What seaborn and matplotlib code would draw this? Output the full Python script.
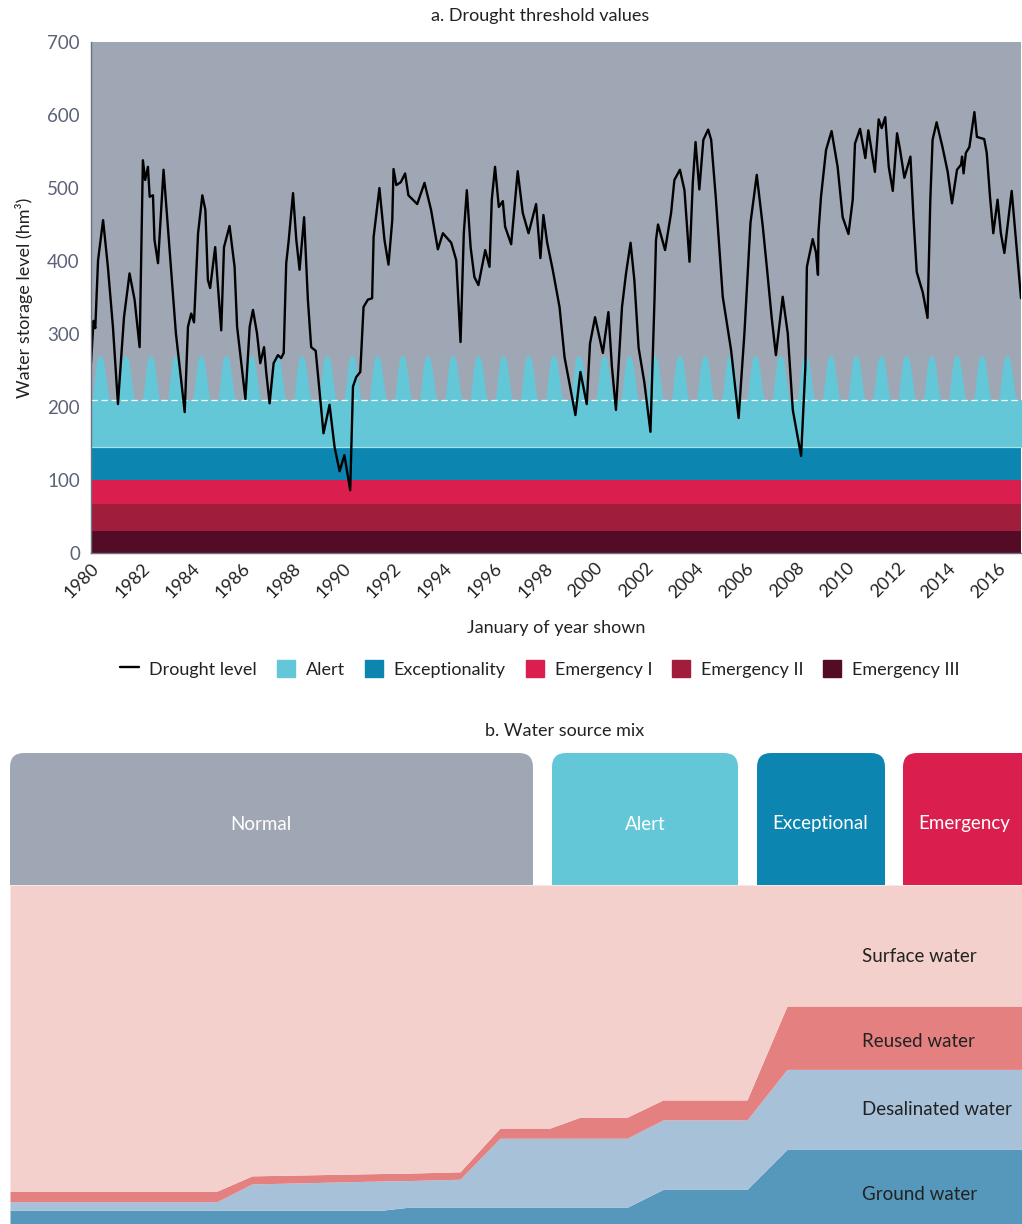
import numpy as np
import pandas as pd
import matplotlib
matplotlib.use("Agg")
import matplotlib.pyplot as plt
from matplotlib.patches import FancyBboxPatch, Patch
from matplotlib.lines import Line2D
import seaborn as sns

# ---------------- data: reservoir storage (hm3) ----------------
years = [
    1980.00, 1980.10, 1980.17, 1980.28, 1980.48, 1980.67, 1980.87, 1981.07, 1981.31, 1981.53,
    1981.73, 1981.93, 1982.06, 1982.15, 1982.26, 1982.33, 1982.46, 1982.52, 1982.66, 1982.88,
    1983.12, 1983.37, 1983.72, 1983.85, 1983.98, 1984.09, 1984.25, 1984.42, 1984.54, 1984.64,
    1984.73, 1984.93, 1985.04, 1985.17, 1985.28, 1985.50, 1985.70, 1985.80, 1986.13, 1986.30,
    1986.43, 1986.59, 1986.72, 1986.87, 1986.96, 1987.09, 1987.25, 1987.42, 1987.55, 1987.65,
    1987.75, 1987.84, 1988.02, 1988.15, 1988.28, 1988.46, 1988.61, 1988.74, 1988.92, 1989.08,
    1989.23, 1989.47, 1989.67, 1989.87, 1990.06, 1990.29, 1990.40, 1990.53, 1990.69, 1990.82,
    1990.99, 1991.16, 1991.22, 1991.45, 1991.65, 1991.81, 1991.96, 1992.01, 1992.12, 1992.30,
    1992.47, 1992.60, 1992.95, 1993.24, 1993.50, 1993.66, 1993.77, 1993.97, 1994.30, 1994.50,
    1994.67, 1994.80, 1994.92, 1995.07, 1995.22, 1995.38, 1995.65, 1995.82, 1995.91, 1996.04,
    1996.19, 1996.35, 1996.44, 1996.68, 1996.94, 1997.14, 1997.37, 1997.67, 1997.84, 1997.96,
    1998.11, 1998.33, 1998.60, 1998.80, 1999.23, 1999.43, 1999.68, 1999.81, 2000.01, 2000.32,
    2000.54, 2000.68, 2000.84, 2001.08, 2001.24, 2001.42, 2001.57, 2001.74, 2001.97, 2002.21,
    2002.37, 2002.43, 2002.51, 2002.79, 2003.03, 2003.16, 2003.38, 2003.56, 2003.76, 2003.89,
    2004.00, 2004.15, 2004.31, 2004.50, 2004.62, 2004.81, 2005.08, 2005.41, 2005.71, 2005.94,
    2006.18, 2006.43, 2006.67, 2006.84, 2007.02, 2007.19, 2007.46, 2007.66, 2007.86, 2008.19,
    2008.36, 2008.42, 2008.65, 2008.78, 2008.86, 2008.88, 2008.98, 2009.18, 2009.40, 2009.64,
    2009.84, 2010.07, 2010.24, 2010.33, 2010.53, 2010.74, 2010.86, 2011.12, 2011.27, 2011.39,
    2011.53, 2011.67, 2011.83, 2012.00, 2012.12, 2012.29, 2012.53, 2012.65, 2012.78, 2013.02,
    2013.21, 2013.32, 2013.41, 2013.57, 2013.81, 2014.01, 2014.18, 2014.38, 2014.54, 2014.58,
    2014.64, 2014.73, 2014.87, 2015.07, 2015.17, 2015.46, 2015.56, 2015.69, 2015.82, 2015.99,
    2016.12, 2016.26, 2016.55, 2016.72, 2016.92,
]
storage = [
    260, 318, 308, 401, 456, 392, 310, 204, 323, 383,
    347, 282, 538, 511, 529, 488, 490, 429, 397, 525,
    415, 301, 193, 310, 328, 316, 438, 490, 470, 374,
    363, 419, 365, 305, 419, 448, 392, 310, 211, 310,
    333, 301, 260, 282, 246, 205, 260, 271, 267, 274,
    397, 425, 493, 429, 388, 460, 347, 282, 277, 219,
    164, 203, 145, 112, 134, 86, 228, 241, 248, 337,
    347, 349, 433, 500, 429, 395, 456, 526, 504, 508,
    520, 490, 478, 507, 470, 438, 416, 438, 425, 401,
    289, 438, 497, 419, 378, 367, 415, 392, 484, 529,
    474, 482, 447, 423, 523, 466, 438, 478, 404, 463,
    425, 388, 337, 268, 189, 248, 204, 287, 323, 274,
    330, 255, 196, 337, 383, 425, 374, 281, 233, 166,
    347, 429, 450, 415, 466, 511, 525, 497, 399, 507,
    563, 498, 566, 580, 566, 484, 351, 278, 185, 301,
    452, 518, 447, 388, 323, 271, 351, 301, 196, 133,
    255, 392, 430, 412, 381, 440, 488, 552, 578, 529,
    460, 437, 484, 561, 581, 541, 579, 522, 594, 582,
    597, 529, 496, 575, 552, 514, 543, 460, 385, 357,
    322, 484, 566, 590, 555, 522, 479, 525, 532, 543,
    520, 548, 556, 604, 570, 567, 548, 488, 438, 484,
    438, 411, 496, 429, 349,
]

# seasonal alert threshold (hm3), 24 half-month steps per year
alert_profile = [210, 210, 214, 226, 240, 252, 262, 267, 269.5, 270, 269.5, 267,
                 262, 253, 242, 231, 220, 212, 210, 210, 210, 210, 210, 210]
alert_base = 210
# fixed thresholds (hm3)
exceptionality_top = 145
emergency1_top = 100
emergency2_top = 67
emergency3_top = 30

tick_years = list(range(1980, 2017, 2))
yticks = [0, 100, 200, 300, 400, 500, 600, 700]

# ---------------- data: water source mix (% of supply) ----------------
stage_pos = [0, 207, 242, 373, 397, 450, 490, 540, 570, 617, 653, 737, 777, 1012]
ground = [4.1, 4.1, 4.1, 4.1, 4.9, 4.9, 4.9, 4.9, 4.9, 4.9, 10.2, 10.2, 22.0, 22.0]
desalinated = [2.5, 2.5, 7.7, 8.6, 7.9, 8.3, 20.4, 20.4, 20.4, 20.4, 20.5, 20.5, 23.6, 23.6]
reused = [3.1, 3.1, 2.4, 2.2, 2.2, 2.2, 3.0, 3.0, 6.2, 6.2, 5.9, 5.9, 18.7, 18.7]
source_names = ["Ground water", "Desalinated water", "Reused water", "Surface water"]

stage_names = ["Normal", "Alert", "Exceptional", "Emergency"]
stage_spans = [(0, 523), (542, 728), (747, 875), (893, 1040)]
stage_label_x = [251, 635, 810, 954]

# ---------------- colours ----------------
c_normal = "#A0A7B4"
c_alert = "#63C7D8"
c_exc = "#0C86B0"
c_em1 = "#DA1F4E"
c_em2 = "#A01D3C"
c_em3 = "#530B26"
c_ground = "#5598BC"
c_desal = "#A7C1D9"
c_reused = "#E48180"
c_surface = "#F3D0CB"
c_tick = "#5C6378"
c_text = "#222222"

sns.set_theme(style="white")
plt.rcParams["font.family"] = ["Lato", "DejaVu Sans"]

W, H = 1022, 1224
fig = plt.figure(figsize=(W / 100, H / 100), dpi=100)


def frac_box(x0, y0, x1, y1):
    return [x0 / W, 1 - y1 / H, (x1 - x0) / W, (y1 - y0) / H]


# ================= panel a =================
ax = fig.add_axes(frac_box(91, 42, 1021, 553))
ax.set_facecolor(c_normal)
ax.set_xlim(1980, 2016.92)
ax.set_ylim(0, 700)

ax.axhspan(0, emergency3_top, color=c_em3, lw=0, zorder=1)
ax.axhspan(emergency3_top, emergency2_top, color=c_em2, lw=0, zorder=1)
ax.axhspan(emergency2_top, emergency1_top, color=c_em1, lw=0, zorder=1)
ax.axhspan(emergency1_top, exceptionality_top, color=c_exc, lw=0, zorder=1)

ax_years = np.array([y + i / 24 for y in range(1980, 2018) for i in range(24)])
alert_vals = np.tile(np.array(alert_profile, dtype=float), 2018 - 1980)
ax.fill_between(ax_years, exceptionality_top, alert_vals, color=c_alert, lw=0, zorder=1.5)
ax.axhline(alert_base, color="white", lw=0.9, ls=(0, (5, 3)), zorder=1.6)
ax.fill_between(ax_years, alert_base + 0.8, alert_vals, where=alert_vals > alert_base + 0.8,
                interpolate=True, color=c_alert, lw=0, zorder=1.7)
ax.axhline(exceptionality_top, color="#A6E2EC", lw=0.9, zorder=1.8)

df = pd.DataFrame({"year": years, "level": storage})
sns.lineplot(data=df, x="year", y="level", color="black", lw=1.7, ax=ax, zorder=3)
for ln in ax.get_lines():
    ln.set_solid_joinstyle("round")

ax.set_xticks(tick_years)
ax.set_xticklabels([str(t) for t in tick_years], rotation=45, ha="right",
                   rotation_mode="anchor", fontsize=13, color=c_text)
ax.set_yticks(yticks)
ax.set_yticklabels([str(t) for t in yticks], fontsize=13.5, color=c_tick)
ax.tick_params(axis="both", direction="in", length=5, width=1, color="#6B7280", pad=5)
ax.tick_params(axis="y", pad=8)
for s in ["top", "right"]:
    ax.spines[s].set_visible(False)
for s in ["left", "bottom"]:
    ax.spines[s].set_color("#6B7280")
    ax.spines[s].set_linewidth(1)
    ax.spines[s].set_zorder(4)
ax.set_xlabel("January of year shown", fontsize=13, color=c_text, labelpad=14)
ax.set_ylabel("Water storage level (hm\u00b3)", fontsize=13, color=c_text, labelpad=10)
fig.text(540 / W, 1 - 16 / H, "a. Drought threshold values", ha="center", va="center",
         fontsize=13, color=c_text)

handles = [
    Line2D([0], [0], color="black", lw=1.7),
    Patch(color=c_alert), Patch(color=c_exc), Patch(color=c_em1),
    Patch(color=c_em2), Patch(color=c_em3),
]
labels = ["Drought level", "Alert", "Exceptionality", "Emergency I", "Emergency II", "Emergency III"]
fig.legend(handles, labels, loc="center", bbox_to_anchor=(540 / W, 1 - 669 / H), ncol=6,
           frameon=False, fontsize=13, handlelength=1.0, handleheight=1.0,
           handletextpad=0.6, columnspacing=1.1, labelcolor=c_text)

# ================= panel b =================
fig.text(565 / W, 1 - 731 / H, "b. Water source mix", ha="center", va="center",
         fontsize=13, color=c_text)

# stage header
hx = fig.add_axes(frac_box(10, 753, 1022, 885))
hx.set_xlim(0, 1012)
hx.set_ylim(0, 132)
hx.axis("off")
stage_colors = [c_normal, c_alert, c_exc, c_em1]
for name, (x0, x1), col, lx in zip(stage_names, stage_spans, stage_colors, stage_label_x):
    box = FancyBboxPatch((x0, -40), x1 - x0, 172, boxstyle="round,pad=0,rounding_size=14",
                         fc=col, ec="none", clip_on=True)
    hx.add_patch(box)
    hx.text(lx, 61, name, ha="center", va="center", color="white", fontsize=13.5)

# stacked area
bx = fig.add_axes(frac_box(10, 885, 1022, 1224))
surface = [100 - g - d - r for g, d, r in zip(ground, desalinated, reused)]
bx.stackplot(stage_pos, ground, desalinated, reused, surface,
             colors=[c_ground, c_desal, c_reused, c_surface], lw=0)
bx.set_xlim(0, 1012)
bx.set_ylim(0, 100)
bx.axis("off")
label_y = [8.7, 33.9, 53.7, 78.8]
for name, yv in zip(source_names, label_y):
    bx.text(852, yv, name, ha="left", va="center", fontsize=13.5, color=c_text)

fig.savefig("out.png", dpi=100)
